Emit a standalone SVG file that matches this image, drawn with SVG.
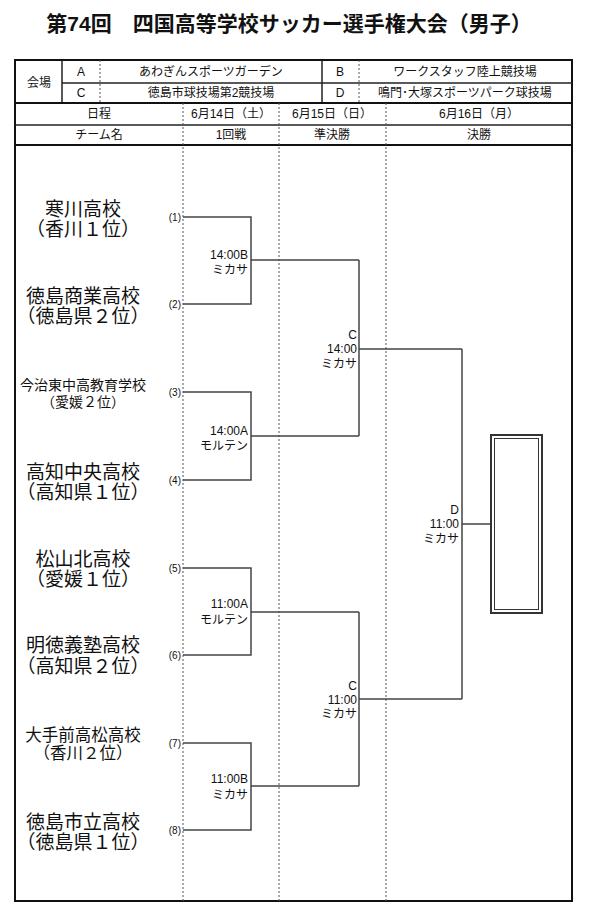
<svg xmlns="http://www.w3.org/2000/svg" width="590" height="916" viewBox="0 0 590 916">
<style>
text{font-family:"Liberation Sans","Noto Sans CJK JP",sans-serif;fill:#111}
.title{font-size:21px;font-weight:bold;text-anchor:middle}
.h{font-size:12px;text-anchor:middle}
.team{font-size:19px;text-anchor:middle}
.teamS{font-size:14px;text-anchor:middle}
.teamM{font-size:16.5px;text-anchor:middle}
.num{font-size:10px;text-anchor:end}
.lab{font-size:12px;text-anchor:end}
.thick{fill:none;stroke:#111;stroke-width:2}
.thin{fill:none;stroke:#222;stroke-width:1.5}
.dash{fill:none;stroke:#555;stroke-width:1;stroke-dasharray:2 2}
.br{fill:none;stroke:#444;stroke-width:1.5}
</style>
<rect width="590" height="916" fill="#fff"/>
<text class="title" x="289" y="31">第74回　四国高等学校サッカー選手権大会（男子）</text>

<g id="venue-table">
<rect class="thick" x="15" y="60" width="557" height="43"/>
<line class="thin" x1="62" y1="60" x2="62" y2="103"/>
<line class="thin" x1="62" y1="83" x2="572" y2="83"/>
<line class="thin" x1="322" y1="60" x2="322" y2="103"/>
<line class="dash" x1="100" y1="60" x2="100" y2="103"/>
<line class="dash" x1="359" y1="60" x2="359" y2="103"/>
<text class="h" x="39" y="87">会場</text>
<text class="h" x="81" y="76">A</text>
<text class="h" x="211" y="76">あわぎんスポーツガーデン</text>
<text class="h" x="340" y="76">B</text>
<text class="h" x="465" y="76">ワークスタッフ陸上競技場</text>
<text class="h" x="81" y="97">C</text>
<text class="h" x="211" y="97">徳島市球技場第2競技場</text>
<text class="h" x="340" y="97">D</text>
<text class="h" x="465" y="97">鳴門･大塚スポーツパーク球技場</text>
</g>

<g id="main-table">
<rect class="thick" x="15" y="103" width="557" height="798"/>
<line class="thin" x1="15" y1="125" x2="572" y2="125"/>
<line class="thick" x1="15" y1="145" x2="572" y2="145"/>
<line class="dash" x1="183" y1="103" x2="183" y2="901"/>
<line class="dash" x1="279" y1="103" x2="279" y2="901"/>
<line class="dash" x1="386" y1="103" x2="386" y2="901"/>
<text class="h" x="99" y="118">日程</text>
<text class="h" x="231" y="118">6月14日（土）</text>
<text class="h" x="332" y="118">6月15日（日）</text>
<text class="h" x="479" y="118">6月16日（月）</text>
<text class="h" x="99" y="139">チーム名</text>
<text class="h" x="231" y="139">1回戦</text>
<text class="h" x="332" y="139">準決勝</text>
<text class="h" x="479" y="139">決勝</text>
</g>

<g id="team1"><text class="team" x="83" y="216">寒川高校</text><text class="team" x="83" y="236">（香川１位）</text><text class="num" x="181" y="221">(1)</text></g>
<g id="team2"><text class="team" x="83" y="303">徳島商業高校</text><text class="team" x="83" y="323">（徳島県２位）</text><text class="num" x="181" y="308">(2)</text></g>
<g id="team3"><text class="teamS" x="83" y="390">今治東中高教育学校</text><text class="teamS" x="83" y="407">（愛媛２位）</text><text class="num" x="181" y="396">(3)</text></g>
<g id="team4"><text class="team" x="83" y="479">高知中央高校</text><text class="team" x="83" y="499">（高知県１位）</text><text class="num" x="181" y="484">(4)</text></g>
<g id="team5"><text class="team" x="83" y="566">松山北高校</text><text class="team" x="83" y="586">（愛媛１位）</text><text class="num" x="181" y="572">(5)</text></g>
<g id="team6"><text class="team" x="83" y="652">明徳義塾高校</text><text class="team" x="83" y="673">（高知県２位）</text><text class="num" x="181" y="659">(6)</text></g>
<g id="team7"><text class="teamM" x="83" y="741">大手前高松高校</text><text class="teamM" x="83" y="759">（香川２位）</text><text class="num" x="181" y="747">(7)</text></g>
<g id="team8"><text class="team" x="83" y="829">徳島市立高校</text><text class="team" x="83" y="849">（徳島県１位）</text><text class="num" x="181" y="834">(8)</text></g>

<g id="connectors">
<path class="br" d="M183,217H251V304H183M251,260H359"/>
<path class="br" d="M183,392H251V480H183M251,436H359"/>
<path class="br" d="M183,568H251V655H183M251,612H359"/>
<path class="br" d="M183,743H251V830H183M251,786H359"/>
<path class="br" d="M359,260V436M359,349H462"/>
<path class="br" d="M359,612V786M359,699H462"/>
<path class="br" d="M462,349V699M462,524H491"/>
</g>

<g id="match-labels">
<text class="lab" x="248" y="259">14:00B</text><text class="lab" x="248" y="274">ミカサ</text>
<text class="lab" x="248" y="435">14:00A</text><text class="lab" x="248" y="450">モルテン</text>
<text class="lab" x="248" y="608">11:00A</text><text class="lab" x="248" y="624">モルテン</text>
<text class="lab" x="248" y="783">11:00B</text><text class="lab" x="248" y="799">ミカサ</text>
<text class="lab" x="357" y="339">C</text><text class="lab" x="357" y="353">14:00</text><text class="lab" x="357" y="368">ミカサ</text>
<text class="lab" x="357" y="690">C</text><text class="lab" x="357" y="704">11:00</text><text class="lab" x="357" y="718">ミカサ</text>
<text class="lab" x="459" y="514">D</text><text class="lab" x="459" y="528">11:00</text><text class="lab" x="459" y="543">ミカサ</text>
</g>

<g id="winner-box">
<rect x="491" y="435" width="51" height="178" fill="#fff" stroke="#333" stroke-width="2"/>
<rect x="494.5" y="438.5" width="44" height="171" fill="none" stroke="#333" stroke-width="1"/>
</g>
</svg>
